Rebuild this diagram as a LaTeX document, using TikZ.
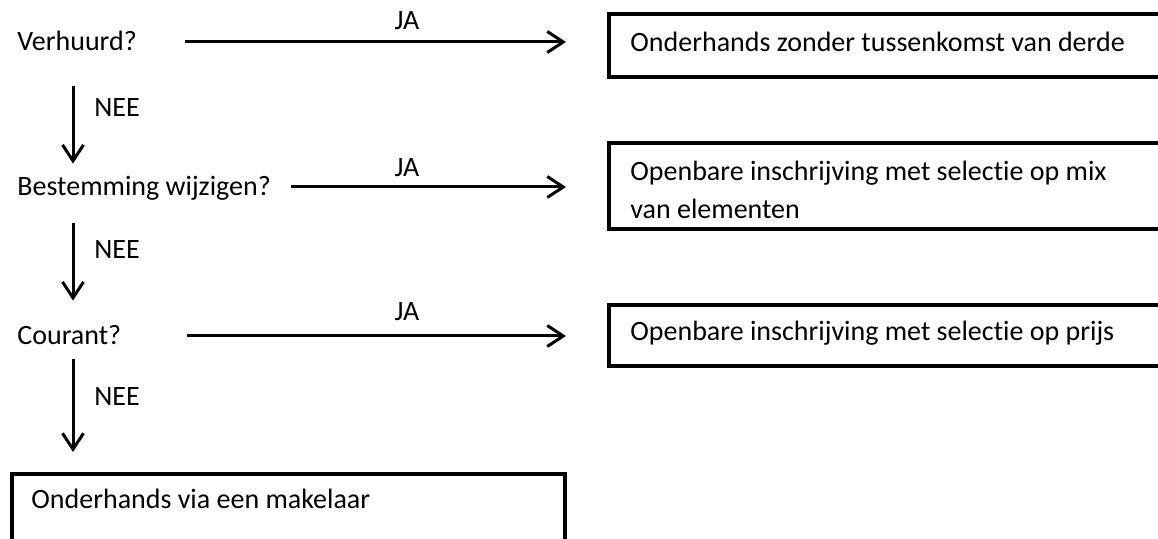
\documentclass[tikz,border=0pt]{standalone}
\usepackage{fontspec}
\setmainfont[Ligatures={NoCommon}]{Carlito}
\usetikzlibrary{arrows.meta}
\begin{document}
\begin{tikzpicture}[x=0.5pt,y=-0.5pt,
  txt/.style={inner sep=0pt, font=\fontsize{14pt}{19pt}\selectfont},
  lbl/.style={txt, text height=9pt, text depth=0pt},
  box/.style={draw, line width=2pt, rectangle, inner sep=0pt, anchor=north west},
  arr/.style={line width=1.5pt, -{Straight Barb[length=8pt,width=10.5pt]}}
]
\useasboundingbox (0,0) rectangle (1158,539);
\clip (0,0) rectangle (1158,539);

% questions
\node[lbl, anchor=west] (q1) at (17,42) {Verhuurd?};
\node[lbl, anchor=west] (q2) at (17,187) {Bestemming wijzigen?};
\node[lbl, anchor=west] (q3) at (17,336) {Courant?};

% boxes
\node[box, minimum width=300pt, minimum height=31.5pt] (b1) at (607,12) {};
\node[box, minimum width=300pt, minimum height=43pt] (b2) at (607,141) {};
\node[box, minimum width=300pt, minimum height=30.5pt] (b3) at (607,303) {};
\node[box, minimum width=276.5pt, minimum height=50pt] (b4) at (10,472) {};

% box texts
\node[lbl, anchor=west] (t1) at (630,43) {Onderhands zonder tussenkomst van derde};
\node[txt, anchor=west, align=left] (t2) at (630,190) {Openbare inschrijving met selectie op mix\\van elementen};
\node[lbl, anchor=west] (t3) at (630,332) {Openbare inschrijving met selectie op prijs};
\node[lbl, anchor=west] (t4) at (31,500) {Onderhands via een makelaar};

% horizontal arrows
\draw[arr, shorten <=24pt, shorten >=20.5pt] (q1.east) -- (q1.east -| b1.west);
\draw[arr, shorten <=10pt, shorten >=20.5pt] (q2.east) -- (q2.east -| b2.west);
\draw[arr, shorten <=32.5pt, shorten >=20.5pt] (q3.east) -- (q3.east -| b3.west);
\node[lbl] (ja1) at (407,21) {JA};
\node[lbl] (ja2) at (407,168) {JA};
\node[lbl] (ja3) at (407,312) {JA};

% vertical arrows
\coordinate (vx) at (73,0);
\draw[arr, shorten <=17.5pt, shorten >=7pt] (q1.south -| vx) -- (q2.north -| vx);
\draw[arr, shorten <=13.5pt, shorten >=13pt] (q2.south -| vx) -- (q3.north -| vx);
\draw[arr, shorten <=7pt, shorten >=10pt] (q3.south -| vx) -- (b4.north -| vx);
\node[lbl] (nee1) at (117,108) {NEE};
\node[lbl] (nee2) at (117,250) {NEE};
\node[lbl] (nee3) at (117,397) {NEE};
\end{tikzpicture}
\end{document}
